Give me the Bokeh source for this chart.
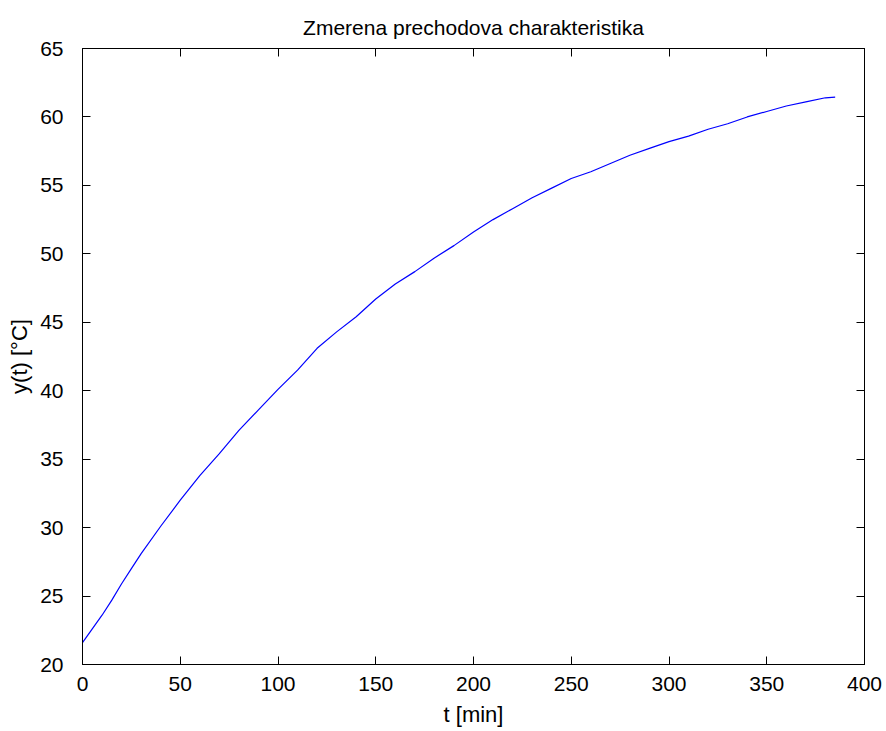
from bokeh.plotting import figure
from bokeh.models import LinearAxis, Range1d, FixedTicker
from bokeh.embed import file_html
from bokeh.resources import INLINE

# time [min]
t_min = [0, 5, 10, 15, 20, 25, 30, 40, 50, 60, 70, 80, 90, 100, 110, 120, 130,
         140, 150, 160, 170, 180, 190, 200, 210, 220, 230, 240, 250, 260, 270,
         280, 290, 300, 310, 320, 330, 340, 350, 360, 370, 380, 385]
# measured temperature [°C]
y_temp = [21.6, 22.6, 23.6, 24.7, 25.9, 27.0, 28.1, 30.1, 32.0, 33.8, 35.4,
          37.1, 38.6, 40.1, 41.5, 43.1, 44.3, 45.4, 46.7, 47.8, 48.7, 49.7,
          50.6, 51.6, 52.5, 53.3, 54.1, 54.8, 55.5, 56.0, 56.6, 57.2, 57.7,
          58.2, 58.6, 59.1, 59.5, 60.0, 60.4, 60.8, 61.1, 61.4, 61.45]

x_ticks = [0, 50, 100, 150, 200, 250, 300, 350, 400]
y_ticks = [20, 25, 30, 35, 40, 45, 50, 55, 60, 65]

FONT = "Liberation Sans"
FS = "21px"

p = figure(width=886, height=731, output_backend="svg", toolbar_location=None,
           x_range=Range1d(0, 400), y_range=Range1d(20, 65),
           x_axis_label="t [min]", y_axis_label="y(t) [°C]",
           title="Zmerena prechodova charakteristika",
           min_border_left=82, min_border_right=22, min_border_top=48,
           min_border_bottom=67)
p.background_fill_color = "white"
p.border_fill_color = "white"
p.outline_line_color = "black"
p.outline_line_width = 1
p.xgrid.visible = False
p.ygrid.visible = False

p.title.align = "center"
p.title.text_font = FONT
p.title.text_font_size = "21px"
p.title.text_font_style = "normal"
p.title.text_color = "black"
p.title.standoff = 20

def style_axis(ax, ticks, show_labels=True):
    ax.ticker = FixedTicker(ticks=ticks)
    ax.major_tick_in = 8
    ax.major_tick_out = 0
    ax.minor_tick_in = 0
    ax.minor_tick_out = 0
    ax.axis_line_color = "black"
    ax.major_tick_line_color = "black"
    ax.axis_label_text_font = FONT
    ax.axis_label_text_font_size = "22px"
    ax.axis_label_text_font_style = "normal"
    ax.axis_label_text_color = "black"
    ax.major_label_text_font = FONT
    ax.major_label_text_font_size = FS
    ax.major_label_text_color = "black"
    if not show_labels:
        ax.major_label_overrides = {tk: "" for tk in ticks}
        ax.major_label_standoff = 0

style_axis(p.xaxis[0], x_ticks)
style_axis(p.yaxis[0], y_ticks)
p.xaxis[0].major_label_standoff = 12
p.xaxis[0].axis_label_standoff = 8
p.yaxis[0].major_label_standoff = 19
p.yaxis[0].axis_label_standoff = 5

top_ax = LinearAxis()
style_axis(top_ax, x_ticks, show_labels=False)
right_ax = LinearAxis()
style_axis(right_ax, y_ticks, show_labels=False)
p.add_layout(top_ax, "above")
p.add_layout(right_ax, "right")

p.line(t_min, y_temp, line_color="#0000FF", line_width=1.2)

open("out.html", "w").write(file_html(p, INLINE))
